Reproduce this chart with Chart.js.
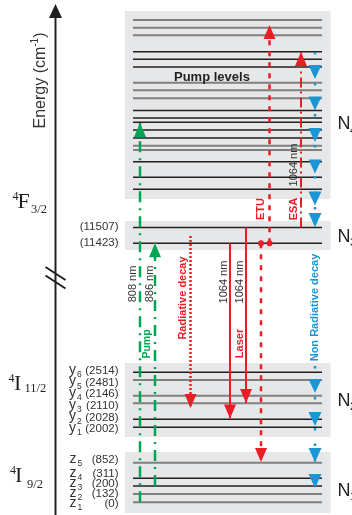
<!DOCTYPE html>
<html>
<head>
<meta charset="utf-8">
<script src="https://cdn.jsdelivr.net/npm/chart.js@4.4.0/dist/chart.umd.min.js"></script>
<style>
  html, body { margin: 0; padding: 0; background: #fff; }
</style>
</head>
<body>
<canvas id="diagram" width="352" height="515"></canvas>
<script>
// ---------- level scheme (schematic heights, diagram units, 0 = top) ----------
const pumpLevels = [20, 27.7, 35.3, 51.7, 59.3, 67, 82.7, 90.3, 98.3, 110.5, 118, 122.3, 130, 138, 145.7, 150, 161.7, 177.3, 189.3];
const pumpTones  = ['g','g','g','d','d','d','g','g','g','d','d','d','d','d','g','g','d','d','d'];

const f32Levels   = [227.5, 243.2];
const f32Energies = [11507, 11423];
const f32Tones    = ['d','d'];

const i112Levels   = [372.3, 380, 395.7, 403.3, 419.3, 427.3];
const i112Energies = [2514, 2481, 2146, 2110, 2028, 2002];
const i112Names    = ['6','5','4','3','2','1'];
const i112Tones    = ['d','g','g','g','d','d'];

const i92Levels   = [462.7, 478.3, 486, 494, 502.3];
const i92Energies = [852, 311, 200, 132, 0];
const i92Names    = ['5','4','3','2','1'];
const i92Tones    = ['g','d','d','g','g'];

// ---------- transitions: [column, start, end] ----------
const pump808   = [140, i92Levels[4], 123];
const pump886   = [155, i92Levels[2], f32Levels[1]];
const radDecay  = [190.5, 236, 408];
const laserA    = [230, f32Levels[1], 418.5];
const laserB    = [246, f32Levels[0], 403];
const etuUp     = [269.5, f32Levels[1], 25];
const etuDown   = [261, f32Levels[1], 462];
const esa       = [301, f32Levels[0], 52];
const nonRadTop = [315, 52, 227];
const nonRadBot = [315, 366, 488];
const nonRadTips = [79, 110.5, 142, 173.5, 205.5, 227, 393, 426, 462, 488];

const RED = '#ec1c24', GREEN = '#00a651', BLUE = '#1b96d4', INK = '#231f20', GREY = '#808080';
const SANS = '"Liberation Sans", Arial, sans-serif';
const SERIF = '"Liberation Serif", "Times New Roman", serif';

// ---------- datasets ----------
const datasets = [];

function addLevels(levels, tones) {
  levels.forEach((v, i) => {
    const dark = tones[i] === 'd';
    datasets.push({
      data: [{x: 133, y: v}, {x: 322, y: v}],
      showLine: true, pointRadius: 0,
      borderColor: dark ? INK : GREY,
      borderWidth: dark ? 1.4 : 2,
      order: 3
    });
  });
}
addLevels(pumpLevels, pumpTones);
addLevels(f32Levels, f32Tones);
addLevels(i112Levels, i112Tones);
addLevels(i92Levels, i92Tones);

function addArrow(t, color, width, dash, head) {
  datasets.push({
    data: [{x: t[0], y: t[1]}, {x: t[0], y: t[2]}],
    showLine: true, pointRadius: 0,
    borderColor: color, borderWidth: width, borderDash: dash,
    head: head, headColor: color,
    order: 1
  });
}
addArrow(pump808, GREEN, 2.5, [11, 6, 2, 6], 'up');
addArrow(pump886, GREEN, 2.5, [11, 6, 2, 6], 'up');
addArrow(radDecay, RED, 2.5, [2, 2], 'down');
addArrow(laserA, RED, 2, [], 'down');
addArrow(laserB, RED, 2, [], 'down');
addArrow(etuUp, RED, 2.5, [5, 6], 'up');
addArrow(etuDown, RED, 2.5, [5, 6], 'down');
addArrow(esa, RED, 2, [10, 4, 2, 4], 'up');
addArrow(nonRadTop, BLUE, 2.5, [2.5, 13], null);
addArrow(nonRadBot, BLUE, 2.5, [2.5, 13], null);

// blue arrowheads along the non-radiative cascade
datasets.push({
  data: nonRadTips.map(v => ({x: 315, y: v})),
  showLine: false, pointRadius: 0,
  heads: 'down', headColor: BLUE,
  order: 0
});

// ---------- drawing helpers ----------
function head(ctx, x, y, dir, color, w, h) {
  const s = dir === 'up' ? 1 : -1;
  ctx.fillStyle = color;
  ctx.beginPath();
  ctx.moveTo(x, y);
  ctx.lineTo(x - w / 2, y + s * h);
  ctx.lineTo(x + w / 2, y + s * h);
  ctx.closePath();
  ctx.fill();
}

function text(ctx, s, x, y, font, color, align, base, rot) {
  ctx.save();
  ctx.font = font;
  ctx.fillStyle = color;
  ctx.textAlign = align || 'left';
  ctx.textBaseline = base || 'middle';
  ctx.translate(x, y);
  if (rot) ctx.rotate(-Math.PI / 2);
  ctx.fillText(s, 0, 0);
  ctx.restore();
}

const diagramPlugin = {
  id: 'diagram',
  beforeDatasetsDraw(chart) {
    const {ctx, scales: {x, y}} = chart;
    ctx.save();
    ctx.fillStyle = '#e6e7e8';
    [[11, 199], [221, 250], [363, 437], [452, 513]].forEach(b => {
      const x0 = x.getPixelForValue(125), x1 = x.getPixelForValue(330.5);
      const y0 = y.getPixelForValue(b[0]), y1 = y.getPixelForValue(b[1]);
      ctx.fillRect(x0, y0, x1 - x0, y1 - y0);
    });
    ctx.restore();
  },
  afterDatasetsDraw(chart) {
    const {ctx, scales: {x, y}} = chart;
    ctx.save();

    // arrowheads
    chart.data.datasets.forEach((ds, i) => {
      const pts = chart.getDatasetMeta(i).data;
      if (ds.head) {
        const p = pts[pts.length - 1];
        head(ctx, p.x, p.y, ds.head, ds.headColor, 12, 14);
      }
      if (ds.heads) pts.forEach(p => head(ctx, p.x, p.y, ds.heads, ds.headColor, 13, 14));
    });

    // ETU start dots
    ctx.fillStyle = RED;
    [etuDown[0], etuUp[0]].forEach(c => {
      ctx.beginPath();
      ctx.arc(x.getPixelForValue(c), y.getPixelForValue(f32Levels[1]), 3, 0, Math.PI * 2);
      ctx.fill();
    });

    // energy axis with break mark
    ctx.strokeStyle = INK;
    ctx.lineWidth = 2;
    ctx.beginPath();
    ctx.moveTo(55.5, 515); ctx.lineTo(55.5, 16);
    ctx.moveTo(45.5, 267); ctx.lineTo(65.5, 280);
    ctx.moveTo(45.5, 275.5); ctx.lineTo(65.5, 288.5);
    ctx.stroke();
    head(ctx, 55.5, 4, 'up', INK, 13, 14);

    // axis title "Energy (cm-1)"
    ctx.save();
    ctx.translate(45, 80.5);
    ctx.rotate(-Math.PI / 2);
    ctx.fillStyle = '#333';
    ctx.textBaseline = 'alphabetic';
    ctx.font = '16px ' + SANS;
    const a = 'Energy (cm', c = ')';
    ctx.font = '10px ' + SANS;
    const wSup = ctx.measureText('-1').width;
    ctx.font = '16px ' + SANS;
    const wA = ctx.measureText(a).width, wC = ctx.measureText(c).width;
    let sx = -(wA + wSup + wC) / 2;
    ctx.fillText(a, sx, 0);
    ctx.font = '10px ' + SANS;
    ctx.fillText('-1', sx + wA, -7);
    ctx.font = '16px ' + SANS;
    ctx.fillText(c, sx + wA + wSup, 0);
    ctx.restore();

    // term symbols
    const term = (sup, main, sub, x0, base, xm, xs, subBase) => {
      text(ctx, sup, x0, base - 8, '12px ' + SERIF, INK, 'left', 'alphabetic');
      text(ctx, main, xm, base, '22px ' + SERIF, INK, 'left', 'alphabetic');
      text(ctx, sub, xs, subBase, '12.5px ' + SERIF, INK, 'left', 'alphabetic');
    };
    term('4', 'F', '3/2', 12.5, 207.5, 17.5, 31, 212.5);
    term('4', 'I', '11/2', 8.5, 389.5, 14, 24.5, 391.5);
    term('4', 'I', '9/2', 10, 482, 15, 27, 488);

    // level labels
    f32Energies.forEach((e, i) => {
      text(ctx, '(' + e + ')', 118.5, [227, 242.5][i], '11.5px ' + SANS, '#333', 'right');
    });
    i112Energies.forEach((e, i) => {
      const yy = 370.7 + i * 11.66;
      text(ctx, 'y', 69, yy - 1, '14px ' + SANS, '#333');
      text(ctx, i112Names[i], 77, yy + 4, '8.5px ' + SANS, '#333');
      text(ctx, '(' + e + ')', 118.5, yy, '11.5px ' + SANS, '#333', 'right');
    });
    i92Energies.forEach((e, i) => {
      const yy = [460, 474, 484, 494, 504][i];
      text(ctx, 'z', 69.5, yy - 1, '14px ' + SANS, '#333');
      text(ctx, i92Names[i], 77.5, yy + 4, '8.5px ' + SANS, '#333');
      text(ctx, '(' + e + ')', 118.5, yy, '11.5px ' + SANS, '#333', 'right');
    });

    // manifold populations N1..N4
    [['4', 124.5], ['3', 237], ['2', 401], ['1', 491]].forEach(n => {
      text(ctx, 'N', 337.5, n[1], '18px ' + SANS, INK);
      text(ctx, n[0], 350, n[1] + 6, '11px ' + SANS, INK);
    });

    text(ctx, 'Pump levels', 174, 77, 'bold 13px ' + SANS, INK);

    // rotated transition labels
    const R = 1;
    text(ctx, '808 nm', 132.5, 284, '11px ' + SANS, '#333', 'center', 'middle', R);
    text(ctx, '886 nm', 150, 284, '11px ' + SANS, '#333', 'center', 'middle', R);
    text(ctx, 'Pump', 147.5, 344, 'bold 10.5px ' + SANS, GREEN, 'center', 'middle', R);
    text(ctx, 'Radiative decay', 182.5, 298, 'bold 11px ' + SANS, RED, 'center', 'middle', R);
    text(ctx, '1064 nm', 224, 282, '11px ' + SANS, '#333', 'center', 'middle', R);
    text(ctx, '1064 nm', 240, 282, '11px ' + SANS, '#333', 'center', 'middle', R);
    text(ctx, 'Laser', 240, 343.5, 'bold 11px ' + SANS, RED, 'center', 'middle', R);
    text(ctx, 'ETU', 260.5, 209, 'bold 11px ' + SANS, RED, 'center', 'middle', R);
    text(ctx, 'ESA', 294, 209, 'bold 11px ' + SANS, RED, 'center', 'middle', R);
    text(ctx, '1064 nm', 294, 165, '11px ' + SANS, '#333', 'center', 'middle', R);
    text(ctx, 'Non Radiative decay', 314.5, 307.5, 'bold 11px ' + SANS, BLUE, 'center', 'middle', R);

    ctx.restore();
  }
};

new Chart(document.getElementById('diagram'), {
  type: 'scatter',
  data: { datasets: datasets },
  options: {
    responsive: false,
    animation: false,
    events: [],
    layout: { padding: 0 },
    plugins: {
      legend: { display: false },
      tooltip: { enabled: false }
    },
    scales: {
      x: { type: 'linear', min: 0, max: 352, display: false },
      y: { type: 'linear', min: 0, max: 515, reverse: true, display: false }
    }
  },
  plugins: [diagramPlugin]
});
</script>
</body>
</html>
